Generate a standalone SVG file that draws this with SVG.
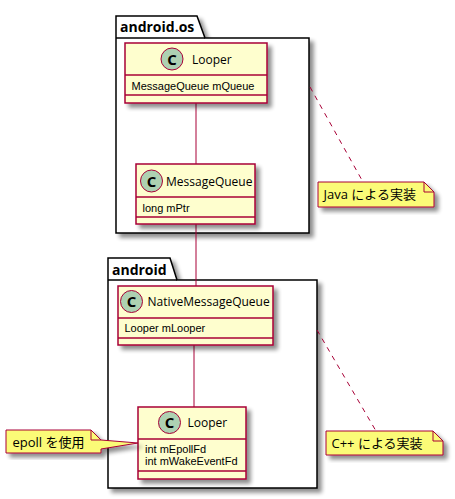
<svg xmlns="http://www.w3.org/2000/svg" width="455" height="499" viewBox="0 0 455 499">
<defs>
<filter id="sh" x="-10%" y="-10%" width="130%" height="140%">
<feGaussianBlur in="SourceAlpha" stdDeviation="2"/>
<feOffset dx="4" dy="4" result="b"/>
<feComponentTransfer><feFuncA type="linear" slope="0.45"/></feComponentTransfer>
<feMerge><feMergeNode/><feMergeNode in="SourceGraphic"/></feMerge>
</filter>
<style>
.pkg{fill:#ffffff;stroke:#000000;stroke-width:1.5;}
.pkgl{fill:none;stroke:#000000;stroke-width:1.5;}
.cls{fill:#FEFECE;stroke:#A80036;stroke-width:1.5;}
.sep{stroke:#A80036;stroke-width:1.5;}
.circ{fill:#ADD1B2;stroke:#A80036;stroke-width:1;}
.note{fill:#FBFB77;stroke:#A80036;stroke-width:1;}
.fold{fill:none;stroke:#A80036;stroke-width:1;}
.edge{stroke:#A80036;stroke-width:1;fill:none;}
.dash{stroke:#A80036;stroke-width:1;fill:none;stroke-dasharray:5,5;}
text{font-family:"Open Sans","Noto Sans","Noto Sans CJK JP",sans-serif;fill:#000000;}
.pt{font-size:14px;font-weight:bold;}
.ct{font-size:12px;}
.at{font-size:11px;font-family:"Liberation Sans",Arial,sans-serif;}
.cl{font-size:15px;font-weight:bold;text-anchor:middle;}
.nt{font-size:13px;}
</style>
</defs>

<g id="pkg-android-os">
<path class="pkg" filter="url(#sh)" d="M116,16 L197,16 L205,38 L309,38 L309,233 L116,233 Z"/>
<path class="pkgl" d="M116,38 L205,38"/>
<text class="pt" x="120" y="32">android.os</text>
</g>

<g id="pkg-android">
<path class="pkg" filter="url(#sh)" d="M108,258 L170,258 L177,280 L317,280 L317,488 L108,488 Z"/>
<path class="pkgl" d="M108,280 L177,280"/>
<text class="pt" x="112" y="275">android</text>
</g>

<g id="connectors">
<path class="edge" d="M196,103 L196,164"/>
<path class="edge" d="M196,224 L196,286"/>
<path class="edge" d="M194,345 L194,407"/>
<path class="dash" d="M310,87 L363,182"/>
<path class="dash" d="M317,330 L376,431"/>
</g>

<g id="cls-looper-java">
<rect class="cls" filter="url(#sh)" x="125" y="43" width="142" height="60"/>
<line class="sep" x1="125" y1="75" x2="267" y2="75"/>
<line class="sep" x1="125" y1="95" x2="267" y2="95"/>
<circle class="circ" cx="172" cy="59" r="11"/>
<text class="cl" x="172" y="64.5">C</text>
<text class="ct" x="192" y="64">Looper</text>
<text class="at" x="131.5" y="90">MessageQueue mQueue</text>
</g>

<g id="cls-messagequeue">
<rect class="cls" filter="url(#sh)" x="136" y="164" width="119" height="60"/>
<line class="sep" x1="136" y1="197" x2="255" y2="197"/>
<line class="sep" x1="136" y1="217" x2="255" y2="217"/>
<circle class="circ" cx="151.5" cy="181" r="11"/>
<text class="cl" x="151.5" y="186.5">C</text>
<text class="ct" x="166" y="186">MessageQueue</text>
<text class="at" x="142.5" y="211.5">long mPtr</text>
</g>

<g id="cls-nativemessagequeue">
<rect class="cls" filter="url(#sh)" x="118" y="286" width="155" height="59"/>
<line class="sep" x1="118" y1="318" x2="273" y2="318"/>
<line class="sep" x1="118" y1="338" x2="273" y2="338"/>
<circle class="circ" cx="131.5" cy="301.5" r="11"/>
<text class="cl" x="131.5" y="307">C</text>
<text class="ct" x="147.5" y="306">NativeMessageQueue</text>
<text class="at" x="124.5" y="331.5">Looper mLooper</text>
</g>

<g id="cls-looper-native">
<rect class="cls" filter="url(#sh)" x="138" y="407" width="108" height="72"/>
<line class="sep" x1="138" y1="439" x2="246" y2="439"/>
<line class="sep" x1="138" y1="471" x2="246" y2="471"/>
<circle class="circ" cx="169.5" cy="422.5" r="11"/>
<text class="cl" x="169.5" y="428">C</text>
<text class="ct" x="187.5" y="427">Looper</text>
<text class="at" x="145" y="452.5">int mEpollFd</text>
<text class="at" x="145" y="465">int mWakeEventFd</text>
</g>

<g id="note-java">
<path class="note" filter="url(#sh)" d="M318,182 L424,182 L434,192 L434,207 L318,207 Z"/>
<path class="fold" d="M424,182 L424,192 L434,192"/>
<text class="nt" x="323.5" y="199">Java による実装</text>
</g>

<g id="note-cpp">
<path class="note" filter="url(#sh)" d="M326,431 L433,431 L443,441 L443,455 L326,455 Z"/>
<path class="fold" d="M433,431 L433,441 L443,441"/>
<text class="nt" x="331.5" y="447.5">C++ による実装</text>
</g>

<g id="note-epoll">
<path class="note" filter="url(#sh)" d="M6,430 L91,430 L101,440 L138,443 L101,449 L101,453 L6,453 Z"/>
<path class="fold" d="M91,430 L91,440 L101,440"/>
<text class="nt" x="12.5" y="447">epoll を使用</text>
</g>
</svg>
